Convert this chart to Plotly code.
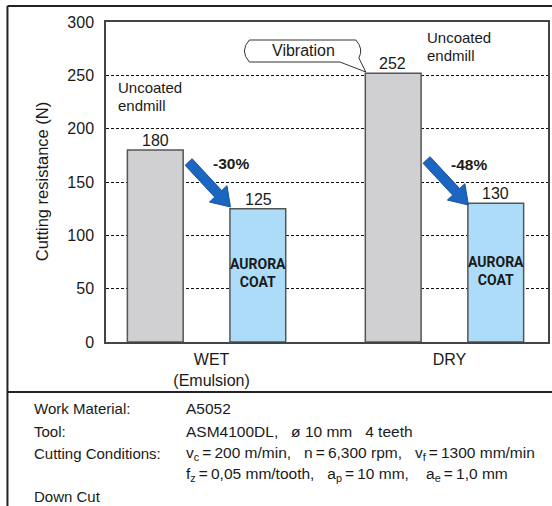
import math
import plotly.graph_objects as go

# ---- data ----
conditions = ["WET<br>(Emulsion)", "DRY"]
uncoated = [180, 252]
aurora = [125, 130]
reductions = ["-30%", "-48%"]
y_ticks = [0, 50, 100, 150, 200, 250, 300]

SP3 = "\u00a0\u00a0\u00a0"
info_labels = ["Work Material:", "Tool:", "Cutting Conditions:", "", "Down Cut"]
info_values = [
    "A5052",
    "ASM4100DL," + SP3 + "ø 10 mm\u00a0\u00a0 4 teeth",
    "v<sub>c</sub>\u2009=\u2009200 m/min," + SP3 + "n\u2009=\u20096,300 rpm," + SP3 + "v<sub>f</sub>\u2009=\u20091300 mm/min",
    "f<sub>z</sub>\u2009=\u20090,05 mm/tooth," + SP3 + "a<sub>p</sub>\u2009=\u200910 mm," + SP3 + "\u00a0a<sub>e</sub>\u2009=\u20091,0 mm",
    "",
]

# ---- layout geometry ----
W, H = 552, 506
L, R, T, B = 106, 2, 22, 164
PW, PH = W - L - R, H - T - B
GROUP_SHIFT = 51.5  # px offset of each bar from its category centre

FONT = "Liberation Sans, Arial, Helvetica, sans-serif"
BOLDC = "Roboto, Liberation Sans, Arial, sans-serif"
TXT = "#1a1a1a"


def pp(x, y):
    return (x - L) / PW, (H - B - y) / PH


def path_from(points):
    s = ""
    for i, (x, y) in enumerate(points):
        px, py = pp(x, y)
        s += ("M" if i == 0 else "L") + f"{px:.5f},{py:.5f} "
    return s + "Z"


def arrow_points(tail, tip, shaft=4.8, head=12, headlen=18):
    dx, dy = tip[0] - tail[0], tip[1] - tail[1]
    ln = math.hypot(dx, dy)
    ux, uy = dx / ln, dy / ln
    nx, ny = -uy, ux
    bx, by = tip[0] - headlen * ux, tip[1] - headlen * uy
    return [
        (tail[0] + shaft * nx, tail[1] + shaft * ny),
        (bx + shaft * nx, by + shaft * ny),
        (bx + head * nx, by + head * ny),
        tip,
        (bx - head * nx, by - head * ny),
        (bx - shaft * nx, by - shaft * ny),
        (tail[0] - shaft * nx, tail[1] - shaft * ny),
    ]


fig = go.Figure()
fig.add_trace(go.Bar(
    x=conditions, y=uncoated, name="Uncoated endmill",
    marker=dict(color="#d0d0d2", line=dict(color="#555555", width=1.5)),
))
fig.add_trace(go.Bar(
    x=conditions, y=aurora, name="AURORA COAT",
    marker=dict(color="#acdcf8", line=dict(color="#555555", width=1.5)),
))

annotations = []
# value labels above bars
for vals, shift in [(uncoated, -GROUP_SHIFT), (aurora, GROUP_SHIFT)]:
    for c, v in zip(conditions, vals):
        annotations.append(dict(
            x=c, y=v, xref="x", yref="y", xshift=shift, yshift=-1,
            text=str(v), showarrow=False, font=dict(family=FONT, size=16, color=TXT),
            xanchor="center", yanchor="bottom",
        ))

# AURORA COAT labels inside blue bars
for c, v in zip(conditions, aurora):
    annotations.append(dict(
        x=c, y=v / 2, xref="x", yref="y", xshift=GROUP_SHIFT, yshift=2,
        text="<b>AURORA<br>COAT</b>", showarrow=False,
        font=dict(family=BOLDC, size=14, color=TXT),
        xanchor="center", yanchor="middle",
    ))

# reduction percentages
for (x, y), t in zip([(232, 163), (471, 164)], reductions):
    px, py = pp(x, y)
    annotations.append(dict(x=px, y=py, xref="paper", yref="paper", text=f"<b>{t}</b>",
                            showarrow=False, font=dict(family=FONT, size=15.5, color=TXT),
                            xanchor="center", yanchor="middle"))

# Uncoated endmill labels
for x, y, t in [(116, 87, "Uncoated"), (116, 106, "endmill"), (426, 37, "Uncoated"), (426, 56, "endmill")]:
    px, py = pp(x, y)
    annotations.append(dict(x=px, y=py, xref="paper", yref="paper", text=t, showarrow=False,
                            font=dict(family=FONT, size=15, color=TXT), xanchor="left", yanchor="middle"))

# Vibration text
px, py = pp(304, 51)
annotations.append(dict(x=px, y=py, xref="paper", yref="paper", text="Vibration", showarrow=False,
                        font=dict(family=FONT, size=16, color=TXT), xanchor="center", yanchor="middle"))

# y-axis title
px, py = pp(42, 181)
annotations.append(dict(x=px, y=py, xref="paper", yref="paper", text="Cutting resistance (N)",
                        textangle=-90, showarrow=False, font=dict(family=FONT, size=16.5, color=TXT),
                        xanchor="center", yanchor="middle"))

# info block
rows_y = [408, 431, 453, 474, 496]
for yv, lab, val in zip(rows_y, info_labels, info_values):
    if lab:
        px, py = pp(32, yv)
        annotations.append(dict(x=px, y=py, xref="paper", yref="paper", text=lab, showarrow=False,
                                font=dict(family=FONT, size=15, color=TXT), xanchor="left", yanchor="middle"))
    if val:
        px, py = pp(184, yv)
        annotations.append(dict(x=px, y=py, xref="paper", yref="paper", text=val, showarrow=False,
                                font=dict(family=FONT, size=15.5, color=TXT), xanchor="left", yanchor="middle"))

shapes = []
# arrows
for tail, tip in [((189, 162), (231, 207)), ((428, 160), (470, 205))]:
    shapes.append(dict(type="path", xref="paper", yref="paper", path=path_from(arrow_points(tail, tip)),
                       fillcolor="#1a66c0", line=dict(color="#17509a", width=1), layer="above"))

# Vibration callout
bub = "M{} L{} Q{} {} L{} L{} L{} Q{} {} Z".format(
    *["{:.5f},{:.5f}".format(*pp(x, y)) for x, y in
      [(250, 40), (357, 40), (365, 49), (360, 58), (367, 72), (341, 62), (250, 62), (240, 51), (250, 40)]])
shapes.append(dict(type="path", xref="paper", yref="paper", path=bub, fillcolor="white",
                   line=dict(color="#333333", width=1), layer="above"))


def line(x0, y0, x1, y1, w=2):
    a, b = pp(x0, y0)
    c, d = pp(x1, y1)
    return dict(type="line", xref="paper", yref="paper", x0=a, y0=b, x1=c, y1=d,
                line=dict(color="#222222", width=w), layer="above")


shapes += [line(7, 6, 560, 6), line(7, 6, 7, 520), line(7, 392, 560, 392)]

fig.update_layout(
    width=W, height=H,
    margin=dict(l=L, r=R, t=T, b=B, pad=0),
    paper_bgcolor="white", plot_bgcolor="white",
    barmode="group", bargap=0.138, bargroupgap=0.456,
    showlegend=False,
    font=dict(family=FONT, size=16, color=TXT),
    annotations=annotations, shapes=shapes,
)
fig.update_xaxes(
    type="category", range=[-0.4226, 1.4351],
    showline=True, mirror=True, linecolor="#444444", linewidth=1.5,
    showgrid=False, ticks="", ticklabelstandoff=2, ticklabelshift=5,
    tickfont=dict(family=FONT, size=16, color=TXT), fixedrange=True,
)
fig.update_yaxes(
    range=[0, 300], tickvals=y_ticks,
    showline=True, mirror=True, linecolor="#444444", linewidth=1.5,
    showgrid=True, gridcolor="#111111", gridwidth=1, griddash="3px,2px",
    zeroline=False, ticks="", ticklabelstandoff=7,
    tickfont=dict(family=FONT, size=16, color=TXT), fixedrange=True,
)

fig.write_html("out.html", config={"displayModeBar": False},
               post_script="document.body.style.margin='0';document.body.style.overflow='hidden';")
